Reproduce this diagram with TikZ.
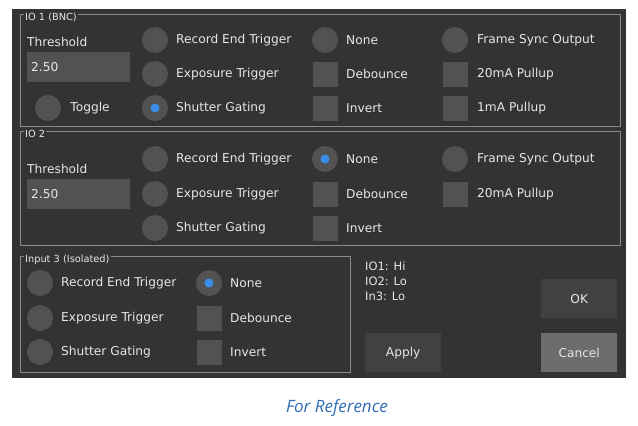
\documentclass[tikz,border=0pt]{standalone}
\usepackage{fontspec}
\usetikzlibrary{positioning}
\setmainfont{DejaVu Sans}
\newfontfamily\capfont{Open Sans}
\definecolor{panelbg}{HTML}{333333}
\definecolor{widget}{HTML}{525252}
\definecolor{frameline}{HTML}{8A8A8A}
\definecolor{uitext}{HTML}{E6E6E6}
\definecolor{selblue}{HTML}{3A8EE6}
\definecolor{capblue}{HTML}{2F6DB5}
\begin{document}
\begin{tikzpicture}[
    x=1pt, y=-1pt,
    every node/.style={text=uitext, font=\fontsize{12.2}{14}\selectfont},
    group/.style={draw=frameline, line width=0.8pt},
    grouplabel/.style={anchor=west, font=\fontsize{9.8}{11}\selectfont, fill=panelbg, inner sep=1pt},
    radio/.style={circle, fill=widget, minimum size=26pt, inner sep=0pt},
    check/.style={rectangle, fill=widget, minimum size=25pt, inner sep=0pt},
    label/.style={anchor=west, inner sep=0pt},
    entry/.style={rectangle, fill=widget, minimum width=103pt, minimum height=30pt, anchor=north west, text width=95pt, align=left},
    button/.style={rectangle, fill=widget!110, minimum width=76pt, minimum height=39pt, anchor=north west}
]
    \useasboundingbox (0,0) rectangle (638,426);
    \fill[panelbg] (12,9) rectangle (626,378);

    % IO 1 (BNC)
    \draw[group] (20,14) rectangle (620,126);
    \node[grouplabel] (io1title) at (24,17) {IO 1 (BNC)};
    \node[label] (thr1) at (27,42) {Threshold};
    \node[entry] (val1) at (27,52) {2.50};
    \node[radio] (tog1) at (48,108) {};
    \node[label, right=9pt of tog1] {Toggle};
    \node[radio] (rec1) at (155,40) {};
    \node[radio] (exp1) at (155,74) {};
    \node[radio] (shu1) at (155,108) {};
    \fill[selblue] (shu1) circle (4.5pt);
    \node[label] at (176,40) {Record End Trigger};
    \node[label] at (176,74) {Exposure Trigger};
    \node[label] at (176,108) {Shutter Gating};
    \node[radio] (non1) at (325,40) {};
    \node[check] (deb1) at (325,74) {};
    \node[check] (inv1) at (325,108) {};
    \node[label] at (346,40) {None};
    \node[label] at (346,74) {Debounce};
    \node[label] at (346,108) {Invert};
    \node[radio] (fso1) at (455,40) {};
    \node[check] (p20a) at (455,74) {};
    \node[check] (p1a) at (455,108) {};
    \node[label] at (477,40) {Frame Sync Output};
    \node[label] at (477,74) {20mA Pullup};
    \node[label] at (477,108) {1mA Pullup};

    % IO 2
    \draw[group] (20,131) rectangle (620,245);
    \node[grouplabel] (io2title) at (24,134) {IO 2};
    \node[label] (thr2) at (27,169) {Threshold};
    \node[entry] (val2) at (27,179) {2.50};
    \node[radio] (rec2) at (155,159) {};
    \node[radio] (exp2) at (155,194) {};
    \node[radio] (shu2) at (155,228) {};
    \node[label] at (176,159) {Record End Trigger};
    \node[label] at (176,194) {Exposure Trigger};
    \node[label] at (176,228) {Shutter Gating};
    \node[radio] (non2) at (325,159) {};
    \fill[selblue] (non2) circle (4.5pt);
    \node[check] (deb2) at (325,194) {};
    \node[check] (inv2) at (325,228) {};
    \node[label] at (346,159) {None};
    \node[label] at (346,194) {Debounce};
    \node[label] at (346,228) {Invert};
    \node[radio] (fso2) at (455,159) {};
    \node[check] (p20b) at (455,194) {};
    \node[label] at (477,159) {Frame Sync Output};
    \node[label] at (477,194) {20mA Pullup};

    % Input 3 (Isolated)
    \draw[group] (20,256) rectangle (350,372);
    \node[grouplabel] (in3title) at (24,260) {Input 3 (Isolated)};
    \node[radio] (rec3) at (40,283) {};
    \node[radio] (exp3) at (40,318) {};
    \node[radio] (shu3) at (40,352) {};
    \node[label] at (61,283) {Record End Trigger};
    \node[label] at (61,318) {Exposure Trigger};
    \node[label] at (61,352) {Shutter Gating};
    \node[radio] (non3) at (209,283) {};
    \fill[selblue] (non3) circle (4.5pt);
    \node[check] (deb3) at (209,318) {};
    \node[check] (inv3) at (209,352) {};
    \node[label] at (230,283) {None};
    \node[label] at (230,318) {Debounce};
    \node[label] at (230,352) {Invert};

    % status and buttons
    \node[anchor=north west, align=left, inner sep=0pt, font=\fontsize{11.5}{14.8}\selectfont] (status) at (365,262) {IO1: Hi\\IO2: Lo\\In3: Lo};
    \node[button] (ok) at (541,279) {OK};
    \node[button] (apply) at (365,333) {Apply};
    \node[button, fill=widget!85!white] (cancel) at (541,333) {Cancel};

    \node[text=capblue, font=\capfont\itshape\fontsize{17}{20}\selectfont] (caption) at (337,408) {For Reference};
\end{tikzpicture}
\end{document}
